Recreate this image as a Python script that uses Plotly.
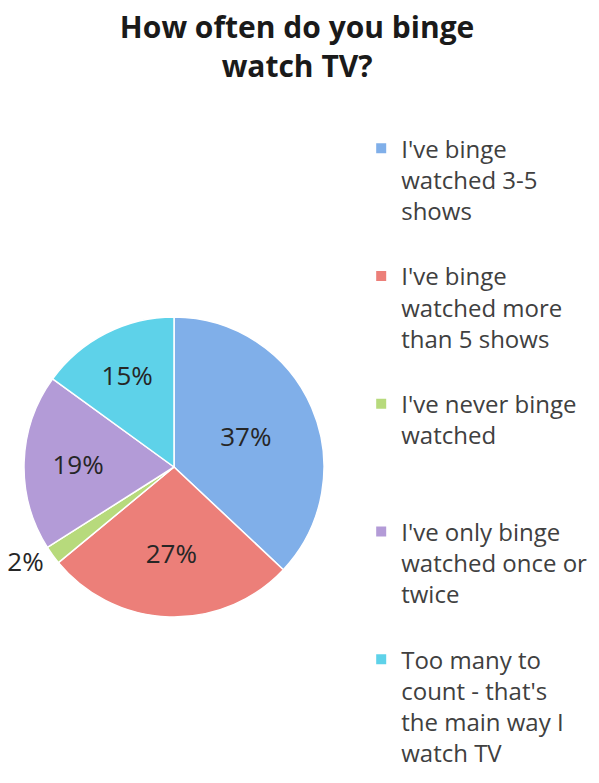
import plotly.graph_objects as go

# Survey answers, in the order they go round the pie (clockwise from 12 o'clock)
answers = [
    "I've binge<br>watched 3-5<br>shows",
    "I've binge<br>watched more<br>than 5 shows",
    "I've never binge<br>watched",
    "I've only binge<br>watched once or<br>twice",
    "Too many to<br>count - that's<br>the main way I<br>watch TV",
]
shares = [37, 27, 2, 19, 15]
slice_colors = ["#80afe9", "#ec7f79", "#b7da7c", "#b39bd7", "#5ed2e9"]
label_positions = ["inside", "inside", "outside", "inside", "inside"]
title_text = "How often do you binge<br>watch TV?"

# pad each legend entry to four lines so the entries sit in equal slots
def pad(label, lines=4):
    n = label.count("<br>") + 1
    return label + "<br>\u00a0" * (lines - n)

legend_labels = [pad(a) for a in answers]

fig = go.Figure(
    go.Pie(
        labels=legend_labels,
        values=shares,
        sort=False,
        direction="clockwise",
        rotation=0,
        marker=dict(colors=slice_colors, line=dict(color="white", width=1.5)),
        texttemplate="%{value}%",
        textposition=label_positions,
        insidetextorientation="horizontal",
        textfont=dict(family="Open Sans", size=26, color="#262626"),
        domain=dict(x=[24 / 599, 324 / 599], y=[166 / 783, 466 / 783]),
        hoverinfo="label+percent",
    )
)

fig.update_layout(
    width=599,
    height=783,
    margin=dict(l=0, r=0, t=0, b=0),
    paper_bgcolor="white",
    plot_bgcolor="white",
    font=dict(family="Open Sans", color="#404040"),
    title=dict(
        text=f"<b>{title_text}</b>",
        x=0.496,
        xanchor="center",
        y=1 - 37.5 / 783,
        yanchor="middle",
        font=dict(family="Open Sans", size=30, color="#1a1a1a"),
    ),
    legend=dict(
        x=0.603,
        y=0.839,
        xanchor="left",
        yanchor="top",
        valign="top",
        font=dict(family="Open Sans", size=24, color="#404040"),
        itemsizing="constant",
        bgcolor="rgba(0,0,0,0)",
    ),
    showlegend=True,
)

fig.write_html("out.html")
